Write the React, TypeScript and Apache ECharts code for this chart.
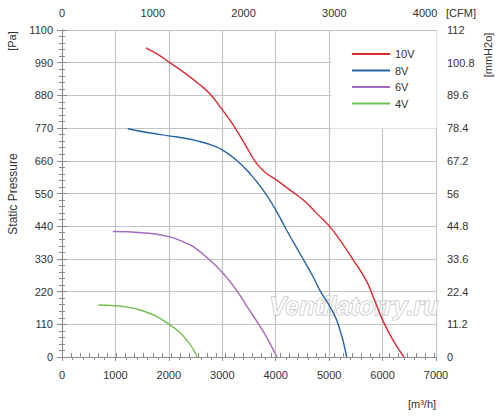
import React, { useEffect, useRef } from "react";
import * as echarts from "echarts";

// Flow [m3/h], static pressure [Pa]
const curve10V: [number, number][] = [
  [1570, 1040], [1800, 1017], [2020, 990], [2300, 955], [2550, 920], [2770, 885],
  [3000, 832], [3150, 795], [3262, 764], [3450, 708], [3638, 652], [3825, 618],
  [4012, 596], [4262, 562], [4512, 529], [4762, 484], [5000, 441], [5200, 394],
  [5450, 327], [5700, 255], [5856, 188], [6014, 119], [6200, 55], [6400, 0],
];
const curve8V: [number, number][] = [
  [1230, 768], [1600, 755], [2000, 744], [2300, 736], [2575, 725], [2800, 713],
  [3000, 697], [3262, 663], [3512, 618], [3762, 562], [4000, 495], [4200, 428],
  [4450, 349], [4700, 270], [4840, 220], [5016, 169], [5170, 110], [5330, 0],
];
const curve6V: [number, number][] = [
  [950, 422], [1500, 418], [2000, 405], [2300, 385], [2450, 372], [2762, 327],
  [3012, 282], [3262, 226], [3480, 165], [3700, 105], [3850, 60], [4020, 0],
];
const curve4V: [number, number][] = [
  [680, 175], [1020, 172], [1250, 167], [1460, 158], [1750, 138], [2021, 108],
  [2200, 83], [2333, 57], [2450, 28], [2530, 0],
];

const seriesNames = ["10V", "8V", "6V", "4V"];
const seriesColors = ["#dc2a30", "#2563a8", "#a26bbd", "#72bf4e"];
const seriesCurves = [curve10V, curve8V, curve6V, curve4V];

const flowMax = 7000;
const flowInterval = 1000;
const pressMax = 1100;
const pressInterval = 110;
const cfmMax = 4120;
const cfmInterval = 100;
const mmMax = 112;
const mmInterval = 11.2;

const axisGray = "#8c8c8c";
const labelColor = "#333";
const fontFamily = "'Liberation Sans', Arial, sans-serif";

export default function App() {
  const ref = useRef<HTMLDivElement>(null);

  useEffect(() => {
    document.body.style.margin = "0";
    const chart = echarts.init(ref.current!, null, { renderer: "svg" });
    const lbl = { color: labelColor, fontSize: 11, fontFamily };
    const plain = (v: number) => String(Math.round(v));
    const option = {
      animation: false,
      backgroundColor: "#fff",
      grid: { left: 62, right: 64, top: 30, bottom: 61 },
      legend: {
        orient: "vertical",
        left: 331,
        top: 31,
        backgroundColor: "#fff",
        padding: [16, 22, 18, 21],
        icon: "rect",
        itemWidth: 38,
        itemHeight: 2,
        itemGap: 2.5,
        textStyle: { color: labelColor, fontSize: 11, fontFamily, lineHeight: 14 },
        data: seriesNames,
      },
      xAxis: [
        {
          type: "value",
          position: "bottom",
          min: 0,
          max: flowMax,
          interval: flowInterval,
          axisLine: { show: true, lineStyle: { color: axisGray } },
          axisTick: { show: true, length: 4, lineStyle: { color: axisGray } },
          minorTick: { show: true, splitNumber: 5, length: 3, lineStyle: { color: axisGray } },
          splitLine: { show: true, lineStyle: { color: "#c4c4c4", width: 1.2 } },
          axisLabel: { ...lbl, margin: 12, formatter: plain },
        },
        {
          type: "value",
          position: "top",
          min: 0,
          max: cfmMax,
          interval: cfmInterval,
          axisLine: { show: true, lineStyle: { color: axisGray } },
          axisTick: { show: true, length: 4, lineStyle: { color: axisGray } },
          splitLine: { show: false },
          axisLabel: {
            ...lbl,
            margin: 12,
            showMaxLabel: false,
            formatter: (v: number) => (Math.round(v) % 1000 === 0 ? String(Math.round(v)) : ""),
          },
        },
      ],
      yAxis: [
        {
          type: "value",
          position: "left",
          min: 0,
          max: pressMax,
          interval: pressInterval,
          axisLine: { show: true, lineStyle: { color: axisGray } },
          axisTick: { show: true, length: 5, lineStyle: { color: axisGray } },
          minorTick: { show: true, splitNumber: 5, length: 3, lineStyle: { color: axisGray } },
          splitLine: { show: true, lineStyle: { color: "#c4c4c4", width: 1.2 } },
          axisLabel: { ...lbl, margin: 9, formatter: plain },
        },
        {
          type: "value",
          position: "right",
          min: 0,
          max: mmMax,
          interval: mmInterval,
          axisLine: { show: true, lineStyle: { color: axisGray } },
          axisTick: { show: true, length: 5, lineStyle: { color: axisGray } },
          minorTick: { show: true, splitNumber: 5, length: 3, lineStyle: { color: axisGray } },
          splitLine: { show: false },
          axisLabel: {
            ...lbl,
            margin: 11,
            formatter: (v: number) => String(Math.round(v * 10) / 10),
          },
        },
      ],
      graphic: [
        {
          type: "text",
          z: 1,
          x: 354,
          y: 306,
          style: {
            text: "Ventilatorry.ru",
            font: "italic bold 25px 'Liberation Sans', Arial, sans-serif",
            fill: "rgba(255,255,255,0.75)",
            stroke: "#b8b8b8",
            lineWidth: 1,
            align: "center",
            verticalAlign: "middle",
          },
        },
        {
          type: "text",
          x: 12,
          y: 41,
          rotation: Math.PI / 2,
          style: { text: "[Pa]", font: `11px ${fontFamily}`, fill: labelColor, align: "center", verticalAlign: "middle" },
        },
        {
          type: "text",
          x: 13,
          y: 194,
          rotation: Math.PI / 2,
          style: { text: "Static Pressure", font: `12px ${fontFamily}`, fill: labelColor, align: "center", verticalAlign: "middle" },
        },
        {
          type: "text",
          x: 488,
          y: 55,
          rotation: Math.PI / 2,
          style: { text: "[mmH2o]", font: `11px ${fontFamily}`, fill: labelColor, align: "center", verticalAlign: "middle" },
        },
        {
          type: "text",
          x: 461,
          y: 12.5,
          style: { text: "[CFM]", font: `11px ${fontFamily}`, fill: labelColor, align: "center", verticalAlign: "middle" },
        },
        {
          type: "text",
          x: 422,
          y: 404,
          style: { text: "[m³/h]", font: `11px ${fontFamily}`, fill: labelColor, align: "center", verticalAlign: "middle" },
        },
      ],
      series: seriesNames.map((name, i) => ({
        name,
        type: "line",
        xAxisIndex: 0,
        yAxisIndex: 0,
        data: seriesCurves[i],
        smooth: 0.5,
        symbol: "none",
        lineStyle: { color: seriesColors[i], width: 1.4 },
        itemStyle: { color: seriesColors[i] },
        z: 3,
      })),
    };
    chart.setOption(option as any);
    return () => chart.dispose();
  }, []);

  return (
    <div
      ref={ref}
      style={{ position: "fixed", left: 0, top: 0, width: 500, height: 418 }}
    />
  );
}
